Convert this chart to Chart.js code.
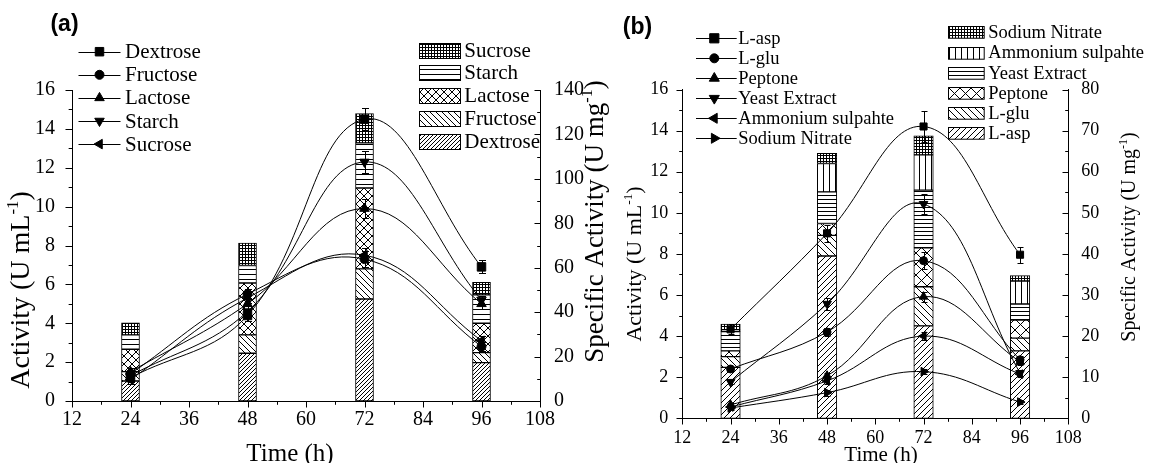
<!DOCTYPE html>
<html>
<head>
  <meta charset="utf-8">
  <title>Activity and specific activity vs time</title>
  <script src="https://cdn.jsdelivr.net/npm/chart.js"></script>
  <style>
    html, body { margin: 0; padding: 0; background: #fff; }
    body { width: 1153px; height: 463px; position: relative; overflow: hidden; }
    canvas { position: absolute; top: 0; }
    .warm { position: absolute; left: -999px; top: 0; font: 20px "Liberation Serif"; }
    .warm2 { position: absolute; left: -999px; top: 30px; font: bold 20px "Liberation Sans"; }
  </style>
</head>
<body>
  <span class="warm">Activity 0123</span><span class="warm2">(a)</span>
  <canvas id="chartA" width="615" height="463" style="left:0"></canvas>
  <canvas id="chartB" width="545" height="463" style="left:608px"></canvas>
  <script>
    // ---- data ----
    const timePoints = [24, 48, 72, 96];

    // (a) carbon sources
    const carbonSources = ["Dextrose", "Fructose", "Lactose", "Starch", "Sucrose"];
    // activity (U mL-1), left axis
    const actDextrose = [1.2, 4.4, 14.5, 6.9];
    const actFructose = [1.4, 5.5, 7.3, 2.8];
    const actLactose  = [1.5, 5.0, 9.9, 5.0];
    const actStarch   = [1.3, 4.6, 12.3, 5.2];
    const actSucrose  = [1.1, 5.3, 7.5, 3.1];
    const errDextrose = [0.2, 0.3, 0.55, 0.33];
    const errFructose = [0.2, 0.25, 0.4, 0.25];
    const errLactose  = [0.2, 0.3, 0.5, 0.25];
    const errStarch   = [0.2, 0.3, 0.55, 0.2];
    const errSucrose  = [0.2, 0.25, 0.35, 0.25];
    // specific activity (U mg-1), right axis, stacked
    const spDextrose = [9.0, 21.5, 45.9, 17.3];
    const spFructose = [4.2, 8.3, 13.6, 4.5];
    const spLactose  = [10.1, 23.3, 36.4, 13.2];
    const spStarch   = [6.5, 7.9, 20.3, 12.8];
    const spSucrose  = [5.4, 10.1, 13.2, 5.6];

    // (b) nitrogen sources
    const nitrogenSources = ["L-asp", "L-glu", "Peptone", "Yeast Extract", "Ammonium sulpahte", "Sodium Nitrate"];
    const actLasp     = [4.33, 9.0, 14.2, 7.96];
    const actLglu     = [2.4, 4.2, 7.67, 2.85];
    const actPeptone  = [0.65, 2.07, 5.92, 2.75];
    const actYeast    = [1.77, 5.57, 10.43, 2.2];
    const actAmmonium = [0.55, 1.82, 4.0, 2.15];
    const actNitrate  = [0.5, 1.25, 2.27, 0.79];
    const errLasp     = [0.25, 0.4, 0.75, 0.4];
    const errLglu     = [0.1, 0.2, 0.4, 0.2];
    const errPeptone  = [0.1, 0.15, 0.25, 0.15];
    const errYeast    = [0.1, 0.3, 0.5, 0.15];
    const errAmmonium = [0.1, 0.15, 0.2, 0.15];
    const errNitrate  = [0.08, 0.15, 0.12, 0.1];
    const spLasp      = [12.4, 39.5, 22.5, 16.4];
    const spLglu      = [2.6, 5.0, 9.5, 3.1];
    const spPeptone   = [1.4, 2.9, 9.5, 4.4];
    const spYeast     = [4.7, 7.7, 14.0, 3.9];
    const spAmmonium  = [0.4, 6.9, 8.6, 5.6];
    const spNitrate   = [1.4, 2.5, 4.6, 1.3];

    // ---- styling helpers ----
    const SERIF = '"Liberation Serif", "DejaVu Serif", "Times New Roman", serif';
    const SANS = '"Liberation Sans", Arial, sans-serif';
    const markerStyles = ["rect", "circle", "triangle", "triangle", "triangle", "triangle"];
    const markerRot = [0, 0, 0, 180, -90, 90];

    function hatch(kind, s) {
      const c = document.createElement("canvas");
      c.width = s; c.height = s;
      const g = c.getContext("2d");
      g.fillStyle = "#fff"; g.fillRect(0, 0, s, s);
      g.strokeStyle = "#000"; g.lineWidth = 1;
      g.beginPath();
      if (kind === "fwd" || kind === "cross") {
        g.moveTo(0, s); g.lineTo(s, 0);
        g.moveTo(-1, 1); g.lineTo(1, -1);
        g.moveTo(s - 1, s + 1); g.lineTo(s + 1, s - 1);
      }
      if (kind === "back" || kind === "cross") {
        g.moveTo(0, 0); g.lineTo(s, s);
        g.moveTo(s - 1, -1); g.lineTo(s + 1, 1);
        g.moveTo(-1, s - 1); g.lineTo(1, s + 1);
      }
      if (kind === "horiz" || kind === "grid") { g.moveTo(0, s - 0.5); g.lineTo(s, s - 0.5); }
      if (kind === "vert" || kind === "grid") { g.moveTo(s - 0.5, 0); g.lineTo(s - 0.5, s); }
      g.stroke();
      return g.createPattern(c, "repeat");
    }

    const pts = vals => vals.map((v, i) => ({ x: timePoints[i], y: v }));

    function lineSet(label, vals, errs, k, radius) {
      return {
        type: "line", label, data: pts(vals), errors: errs, yAxisID: "yL", order: 0,
        borderColor: "#000", borderWidth: 1, tension: 0.4,
        pointStyle: markerStyles[k], pointRotation: markerRot[k], pointRadius: radius[k],
        pointBackgroundColor: "#000", pointBorderColor: "#000", pointBorderWidth: 1
      };
    }

    function barSet(label, vals, pattern, thickness) {
      return {
        type: "bar", label, data: pts(vals), yAxisID: "yR", order: 1,
        backgroundColor: pattern, borderColor: "#000", borderWidth: 1,
        barThickness: thickness, borderSkipped: false
      };
    }

    function richText(ctx, t, off) {
      const size = t.size, sup = size * 0.6;
      const fam = t.family || SERIF, weight = t.bold ? "bold " : "";
      ctx.save();
      ctx.translate(t.x - off, t.y);
      if (t.rotate) ctx.rotate(-Math.PI / 2);
      ctx.fillStyle = "#000";
      ctx.textBaseline = "alphabetic";
      let w = 0;
      t.parts.forEach(p => { ctx.font = weight + (p.sup ? sup : size) + "px " + fam; w += ctx.measureText(p.t).width; });
      let x = -w / 2;
      const base = size * 0.33;
      t.parts.forEach(p => {
        ctx.font = weight + (p.sup ? sup : size) + "px " + fam;
        ctx.fillText(p.t, x, p.sup ? base - size * 0.4 : base);
        x += ctx.measureText(p.t).width;
      });
      ctx.restore();
    }

    function marker(ctx, style, rot, r, x, y) {
      if (Chart.helpers && Chart.helpers.drawPoint) {
        Chart.helpers.drawPoint(ctx, { pointStyle: style, rotation: rot, radius: r, borderWidth: 1 }, x, y);
      } else {
        ctx.beginPath(); ctx.arc(x, y, r, 0, Math.PI * 2); ctx.fill();
      }
    }

    function decor(cfg) {
      const off = cfg.offsetX;
      return {
        id: "decor",
        afterDatasetsDraw(chart) {
          const ctx = chart.ctx, yL = chart.scales.yL;
          ctx.save();
          ctx.strokeStyle = "#000"; ctx.lineWidth = 1;
          chart.data.datasets.forEach((ds, i) => {
            if (!ds.errors) return;
            chart.getDatasetMeta(i).data.forEach((pt, j) => {
              const v = ds.data[j].y, e = ds.errors[j];
              const x = Math.round(pt.x) + 0.5;
              const y1 = Math.round(yL.getPixelForValue(v + e)) + 0.5;
              const y2 = Math.round(yL.getPixelForValue(v - e)) + 0.5;
              ctx.beginPath();
              ctx.moveTo(x, y1); ctx.lineTo(x, y2);
              ctx.moveTo(x - cfg.cap, y1); ctx.lineTo(x + cfg.cap, y1);
              ctx.moveTo(x - cfg.cap, y2); ctx.lineTo(x + cfg.cap, y2);
              ctx.stroke();
            });
          });
          ctx.restore();
        },
        afterDraw(chart) {
          const ctx = chart.ctx, area = chart.chartArea;
          ctx.save();
          ctx.strokeStyle = "#000"; ctx.fillStyle = "#000"; ctx.lineWidth = 1;

          // major + minor tick marks
          ctx.beginPath();
          cfg.axisTicks.forEach(t => {
            const s = chart.scales[t.id];
            const sign = t.dir === "out" ? 1 : -1;
            for (let k = 0; ; k++) {
              const v = s.min + k * t.minor;
              if (v > s.max + 1e-9) break;
              const isMajor = Math.abs(v / t.major - Math.round(v / t.major)) < 1e-6;
              const len = isMajor ? t.len : t.len * 0.55;
              const p = Math.round(s.getPixelForValue(v)) + 0.5;
              if (s.isHorizontal()) {
                const y0 = Math.round(area.bottom) + 0.5;
                ctx.moveTo(p, y0); ctx.lineTo(p, y0 + sign * len);
              } else if (s.position === "left") {
                const x0 = Math.round(area.left) + 0.5;
                ctx.moveTo(x0, p); ctx.lineTo(x0 - sign * len, p);
              } else {
                const x0 = Math.round(area.right) + 0.5;
                ctx.moveTo(x0, p); ctx.lineTo(x0 + sign * len, p);
              }
            }
          });
          ctx.stroke();

          // line legend
          const L = cfg.lineLegend;
          ctx.font = L.font + "px " + SERIF;
          ctx.textBaseline = "middle"; ctx.textAlign = "left";
          L.names.forEach((name, i) => {
            const y = L.y0 + i * L.dy;
            ctx.beginPath();
            ctx.moveTo(L.x0 - off, Math.round(y) + 0.5); ctx.lineTo(L.x1 - off, Math.round(y) + 0.5);
            ctx.stroke();
            marker(ctx, markerStyles[i], markerRot[i], L.radius[i], L.xm - off, y);
            ctx.fillText(name, L.xt - off, y + 1);
          });

          // pattern legend
          const B = cfg.barLegend;
          B.items.forEach((it, i) => {
            const y = B.y0 + i * B.dy;
            const top = Math.round(y - B.h / 2) + 0.5;
            ctx.fillStyle = it.pattern;
            ctx.fillRect(B.x0 - off, top, B.w, B.h);
            ctx.strokeRect(Math.round(B.x0 - off) + 0.5, top, B.w, B.h);
            ctx.fillStyle = "#000";
            ctx.fillText(it.name, B.xt - off, y + 1);
          });
          ctx.restore();

          cfg.texts.forEach(t => richText(ctx, t, off));
        }
      };
    }

    function axes(o) {
      const tickFont = { family: SERIF, size: o.tickSize };
      const common = { grid: { display: false }, border: { display: true, color: "#000", width: 1 } };
      return {
        x: Object.assign({}, common, {
          type: "linear", position: "bottom", min: 12, max: 108, offset: false, stacked: true,
          ticks: { stepSize: 12, color: "#000", font: tickFont, padding: o.xPad, maxRotation: 0 },
          afterFit: s => { s.height = o.xHeight; }
        }),
        yL: Object.assign({}, common, {
          type: "linear", position: "left", min: 0, max: 16,
          ticks: { stepSize: 2, color: "#000", font: tickFont, padding: o.lPad },
          afterFit: s => { s.width = o.lWidth; }
        }),
        yR: Object.assign({}, common, {
          type: "linear", position: "right", min: 0, max: o.rMax, stacked: true,
          ticks: { stepSize: o.rStep, color: "#000", font: tickFont, padding: o.rPad },
          afterFit: s => { s.width = o.rWidth; }
        })
      };
    }

    function drawAll() {
      // ---- panel (a) ----
      const radiusA = [6, 4.5, 5.5, 5.5, 5.5];
      const patA = [hatch("fwd", 4), hatch("back", 6), hatch("cross", 8), hatch("horiz", 5), hatch("grid", 3)];
      const actA = [actDextrose, actFructose, actLactose, actStarch, actSucrose];
      const errA = [errDextrose, errFructose, errLactose, errStarch, errSucrose];
      const spA = [spDextrose, spFructose, spLactose, spStarch, spSucrose];

      new Chart(document.getElementById("chartA"), {
        type: "bar",
        data: {
          datasets: [
            ...carbonSources.map((n, k) => lineSet(n, actA[k], errA[k], k, radiusA)),
            ...carbonSources.map((n, k) => barSet(n, spA[k], patA[k], 18))
          ]
        },
        options: {
          responsive: false, animation: false,
          layout: { padding: { top: 90, left: 0, right: 0, bottom: 0 } },
          plugins: { legend: { display: false }, tooltip: { enabled: false } },
          scales: axes({ tickSize: 20, xPad: -1, xHeight: 62, lPad: 9, lWidth: 72, rMax: 140, rStep: 20, rPad: 6, rWidth: 75 })
        },
        plugins: [decor({
          offsetX: 0, cap: 3.5,
          axisTicks: [
            { id: "x", major: 12, minor: 6, dir: "out", len: 6 },
            { id: "yL", major: 2, minor: 1, dir: "out", len: 7 },
            { id: "yR", major: 20, minor: 10, dir: "in", len: 6 }
          ],
          lineLegend: { names: carbonSources, x0: 78.5, x1: 120.5, xm: 99.5, xt: 125, y0: 51.7, dy: 23.1, font: 21, radius: radiusA },
          barLegend: {
            items: carbonSources.map((n, k) => ({ name: n, pattern: patA[k] })).reverse(),
            x0: 419, w: 41, h: 15, xt: 464.3, y0: 50, dy: 22.8
          },
          texts: [
            { parts: [{ t: "(a)" }], x: 64.5, y: 23, size: 23, bold: true, family: SANS },
            { parts: [{ t: "Activity (U mL" }, { t: "-1", sup: true }, { t: ")" }], x: 20, y: 290, size: 28, rotate: true },
            { parts: [{ t: "Specific Activity (U mg" }, { t: "-1", sup: true }, { t: ")" }], x: 594, y: 221.5, size: 27, rotate: true },
            { parts: [{ t: "Time (h)" }], x: 290, y: 453, size: 25 }
          ]
        })]
      });

      // ---- panel (b) ----
      const radiusB = [5, 4, 5, 5, 5, 5];
      const radiusLegB = [6.5, 4.5, 5.8, 5.8, 5.8, 5.8];
      const patB = [hatch("fwd", 6), hatch("back", 7), hatch("cross", 11), hatch("horiz", 4), hatch("vert", 6), hatch("grid", 3)];
      const actB = [actLasp, actLglu, actPeptone, actYeast, actAmmonium, actNitrate];
      const errB = [errLasp, errLglu, errPeptone, errYeast, errAmmonium, errNitrate];
      const spB = [spLasp, spLglu, spPeptone, spYeast, spAmmonium, spNitrate];

      new Chart(document.getElementById("chartB"), {
        type: "bar",
        data: {
          datasets: [
            ...nitrogenSources.map((n, k) => lineSet(n, actB[k], errB[k], k, radiusB)),
            ...nitrogenSources.map((n, k) => barSet(n, spB[k], patB[k], 19.5))
          ]
        },
        options: {
          responsive: false, animation: false,
          layout: { padding: { top: 89.5, left: 0, right: 0, bottom: 0 } },
          plugins: { legend: { display: false }, tooltip: { enabled: false } },
          scales: axes({ tickSize: 18, xPad: 1, xHeight: 44.7, lPad: 6, lWidth: 74.3, rMax: 80, rStep: 10, rPad: 5, rWidth: 84.7 })
        },
        plugins: [decor({
          offsetX: 608, cap: 3,
          axisTicks: [
            { id: "x", major: 12, minor: 6, dir: "out", len: 6 },
            { id: "yL", major: 2, minor: 1, dir: "out", len: 6 },
            { id: "yR", major: 10, minor: 5, dir: "in", len: 6 }
          ],
          lineLegend: { names: nitrogenSources, x0: 696, x1: 736.7, xm: 714.3, xt: 738.3, y0: 38.3, dy: 20, font: 18.5, radius: radiusLegB },
          barLegend: {
            items: nitrogenSources.map((n, k) => ({ name: n, pattern: patB[k] })).reverse(),
            x0: 948.3, w: 35.7, h: 11.7, xt: 988.3, y0: 32.3, dy: 20.2
          },
          texts: [
            { parts: [{ t: "(b)" }], x: 637.5, y: 26, size: 23, bold: true, family: SANS },
            { parts: [{ t: "Activity (U mL" }, { t: "-1", sup: true }, { t: ")" }], x: 634, y: 264, size: 22, rotate: true },
            { parts: [{ t: "Specific Activity (U mg" }, { t: "-1", sup: true }, { t: ")" }], x: 1128, y: 237, size: 20, rotate: true },
            { parts: [{ t: "Time (h)" }], x: 881, y: 454, size: 21 }
          ]
        })]
      });
    }

    Promise.all([
      document.fonts.load('20px "Liberation Serif"'),
      document.fonts.load('bold 20px "Liberation Sans"')
    ]).catch(() => {}).then(drawAll);
  </script>
</body>
</html>
